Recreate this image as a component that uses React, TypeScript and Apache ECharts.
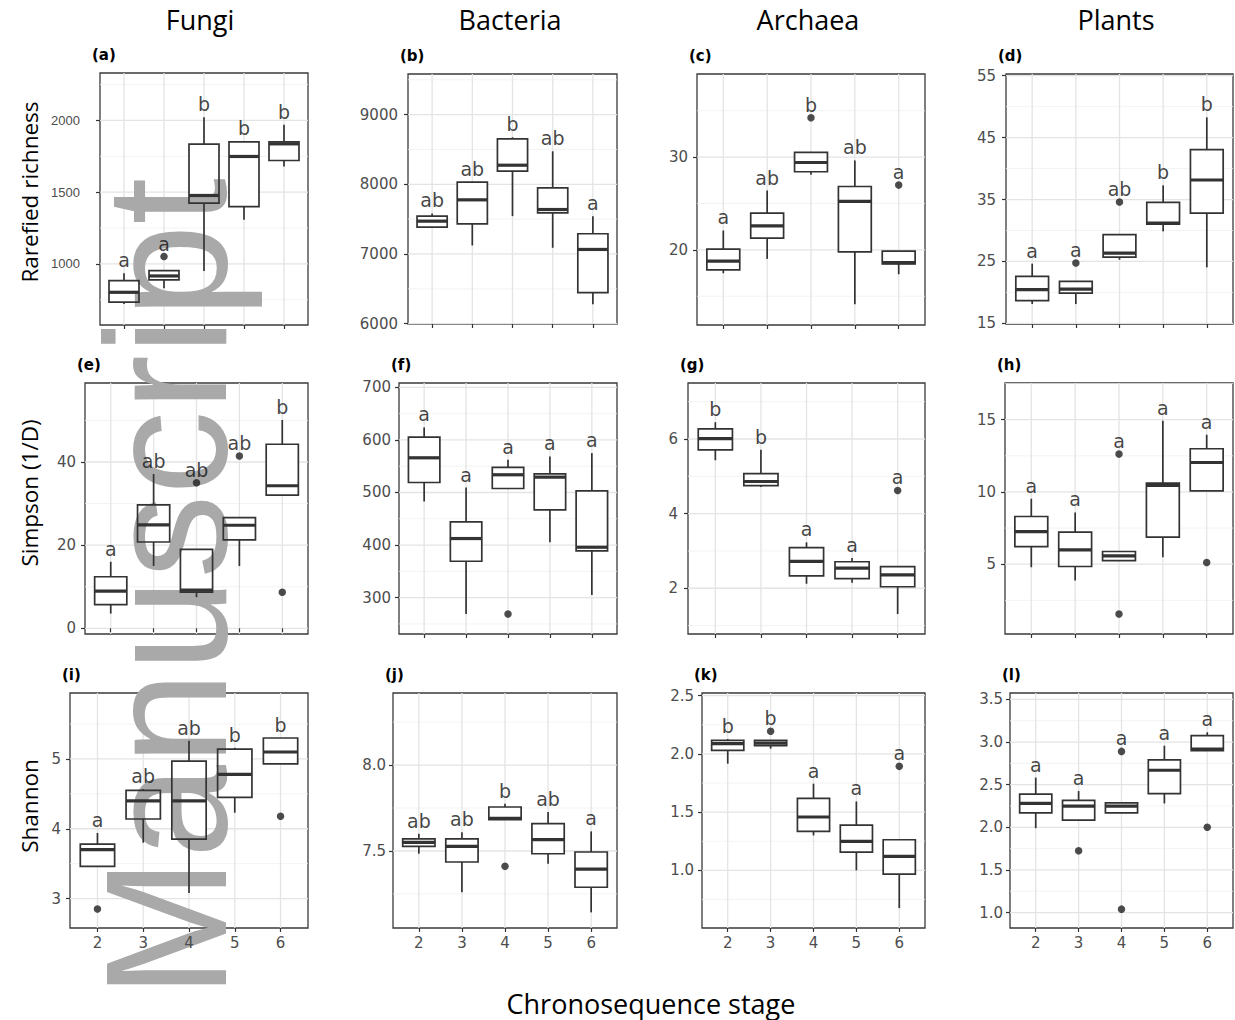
import React, { useEffect, useRef } from "react";
import * as echarts from "echarts";

// ---------------- DATA ----------------
const stages = [2, 3, 4, 5, 6];

const columnTitles = ["Fungi", "Bacteria", "Archaea", "Plants"];
const rowTitles = ["Rarefied richness", "Simpson (1/D)", "Shannon"];
const panelTags = ["(a)", "(b)", "(c)", "(d)", "(e)", "(f)", "(g)", "(h)", "(i)", "(j)", "(k)", "(l)"];
const xAxisTitle = "Chronosequence stage";
const watermarkText = "Manuscript";

// Box statistics per stage: [lower whisker, Q1, median, Q3, upper whisker]
const fungiRichness = [[720, 733, 802, 884, 935], [830, 888, 916, 953, 958], [951, 1424, 1477, 1835, 2023], [1307, 1400, 1749, 1851, 1855], [1679, 1721, 1837, 1851, 1970]];
const fungiRichnessOutliers = [[3, 1051]];
const fungiRichnessLetters = ["a", "a", "b", "b", "b"];
const fungiRichnessTicks = [1000, 1500, 2000];
const fungiRichnessMinor = [750, 1250, 1750, 2250];
const fungiRichnessRange = [574, 2331];

const bacteriaRichness = [[7376, 7385, 7471, 7543, 7581], [7122, 7433, 7777, 8030, 8035], [7543, 8188, 8274, 8651, 8675], [7089, 7591, 7638, 7949, 8474], [6277, 6444, 7065, 7290, 7543]];
const bacteriaRichnessOutliers: number[][] = [];
const bacteriaRichnessLetters = ["ab", "ab", "b", "ab", "a"];
const bacteriaRichnessTicks = [6000, 7000, 8000, 9000];
const bacteriaRichnessMinor = [6500, 7500, 8500, 9500];
const bacteriaRichnessRange = [5995, 9583];

const archaeaRichness = [[17.48, 17.84, 18.78, 20.07, 22.09], [19.03, 21.26, 22.59, 23.96, 26.4], [28.1, 28.42, 29.42, 30.5, 30.5], [14.14, 19.78, 25.22, 26.83, 29.64], [17.37, 18.49, 18.63, 19.86, 19.86]];
const archaeaRichnessOutliers = [[4, 34.24], [6, 26.98]];
const archaeaRichnessLetters = ["a", "ab", "b", "ab", "a"];
const archaeaRichnessTicks = [20, 30];
const archaeaRichnessMinor = [15, 25, 35];
const archaeaRichnessRange = [11.9, 38.96];

const plantRichness = [[18.12, 18.66, 20.44, 22.59, 24.64], [18.12, 19.9, 20.54, 21.78, 21.78], [25.28, 25.71, 26.36, 29.32, 29.32], [29.86, 31.04, 31.2, 34.54, 37.29], [24.04, 32.82, 38.15, 43.05, 48.27]];
const plantRichnessOutliers = [[3, 24.74], [4, 34.6]];
const plantRichnessLetters = ["a", "a", "ab", "b", "b"];
const plantRichnessTicks = [15, 25, 35, 45, 55];
const plantRichnessMinor = [20, 30, 40, 50];
const plantRichnessRange = [14.9, 55.27];

const fungiSimpson = [[3.54, 5.71, 8.93, 12.4, 16.0], [14.97, 20.76, 24.87, 29.7, 37.1], [7.48, 8.69, 9.18, 19.0, 19.0], [14.97, 21.25, 24.79, 26.64, 26.64], [32.03, 32.03, 34.29, 44.27, 50.1]];
const fungiSimpsonOutliers = [[4, 35.0], [5, 41.45], [6, 8.69]];
const fungiSimpsonLetters = ["a", "ab", "ab", "ab", "b"];
const fungiSimpsonTicks = [0, 20, 40];
const fungiSimpsonMinor = [10, 30, 50];
const fungiSimpsonRange = [-1.37, 59.0];

const bacteriaSimpson = [[482.9, 519, 566, 605.4, 623.8], [268.9, 369.2, 412.4, 444.1, 509.5], [507.6, 507.6, 533.7, 547.6, 562.2], [405.4, 467, 529.2, 535.6, 568.6], [305.1, 388.9, 395.9, 503.2, 574.9]];
const bacteriaSimpsonOutliers = [[4, 268.9]];
const bacteriaSimpsonLetters = ["a", "a", "a", "a", "a"];
const bacteriaSimpsonTicks = [300, 400, 500, 600, 700];
const bacteriaSimpsonMinor = [250, 350, 450, 550, 650];
const bacteriaSimpsonRange = [230.8, 708.3];

const archaeaSimpson = [[5.43, 5.71, 6.01, 6.27, 6.45], [4.71, 4.75, 4.86, 5.07, 5.71], [2.12, 2.33, 2.72, 3.09, 3.23], [2.15, 2.26, 2.54, 2.71, 2.81], [1.31, 2.04, 2.36, 2.58, 2.58]];
const archaeaSimpsonOutliers = [[6, 4.62]];
const archaeaSimpsonLetters = ["b", "b", "a", "a", "a"];
const archaeaSimpsonTicks = [2, 4, 6];
const archaeaSimpsonMinor = [1, 3, 5, 7];
const archaeaSimpsonRange = [0.774, 7.5];

const plantSimpson = [[4.79, 6.22, 7.26, 8.3, 9.53], [3.87, 4.84, 5.99, 7.22, 8.58], [5.25, 5.25, 5.58, 5.88, 5.88], [5.48, 6.87, 10.45, 10.61, 14.93], [10.08, 10.08, 12.04, 12.99, 13.96]];
const plantSimpsonOutliers = [[4, 12.62], [4, 1.56], [6, 5.12]];
const plantSimpsonLetters = ["a", "a", "a", "a", "a"];
const plantSimpsonTicks = [5, 10, 15];
const plantSimpsonMinor = [2.5, 7.5, 12.5, 17.5];
const plantSimpsonRange = [0.17, 17.54];

const fungiShannon = [[3.46, 3.46, 3.7, 3.78, 3.94], [3.8, 4.14, 4.4, 4.55, 4.57], [3.08, 3.85, 4.4, 4.97, 5.26], [4.23, 4.45, 4.78, 5.14, 5.16], [4.93, 4.93, 5.1, 5.3, 5.3]];
const fungiShannonOutliers = [[2, 2.85], [6, 4.18]];
const fungiShannonLetters = ["a", "ab", "ab", "b", "b"];
const fungiShannonTicks = [3, 4, 5];
const fungiShannonMinor = [3.5, 4.5, 5.5];
const fungiShannonRange = [2.578, 5.945];

const bacteriaShannon = [[7.484, 7.527, 7.55, 7.57, 7.6], [7.26, 7.436, 7.527, 7.57, 7.609], [7.682, 7.682, 7.69, 7.756, 7.775], [7.426, 7.484, 7.566, 7.659, 7.727], [7.143, 7.289, 7.395, 7.494, 7.614]];
const bacteriaShannonOutliers = [[4, 7.411]];
const bacteriaShannonLetters = ["ab", "ab", "b", "ab", "a"];
const bacteriaShannonTicks = [7.5, 8.0];
const bacteriaShannonMinor = [7.25, 7.75, 8.25];
const bacteriaShannonRange = [7.052, 8.419];

const archaeaShannon = [[1.916, 2.03, 2.088, 2.116, 2.128], [2.045, 2.071, 2.093, 2.116, 2.116], [1.3, 1.335, 1.458, 1.618, 1.744], [1.0, 1.157, 1.249, 1.389, 1.592], [0.676, 0.968, 1.12, 1.263, 1.263]];
const archaeaShannonOutliers = [[3, 2.194], [6, 1.893]];
const archaeaShannonLetters = ["b", "b", "a", "a", "a"];
const archaeaShannonTicks = [1.0, 1.5, 2.0, 2.5];
const archaeaShannonMinor = [0.75, 1.25, 1.75, 2.25];
const archaeaShannonRange = [0.505, 2.523];

const plantShannon = [[1.99, 2.17, 2.28, 2.39, 2.583], [2.083, 2.083, 2.248, 2.315, 2.425], [2.169, 2.169, 2.248, 2.287, 2.287], [2.28, 2.394, 2.669, 2.791, 2.957], [2.898, 2.898, 2.917, 3.075, 3.114]];
const plantShannonOutliers = [[3, 1.724], [4, 2.89], [4, 1.04], [6, 2.0]];
const plantShannonLetters = ["a", "a", "a", "a", "a"];
const plantShannonTicks = [1.0, 1.5, 2.0, 2.5, 3.0, 3.5];
const plantShannonMinor = [1.25, 1.75, 2.25, 2.75, 3.25];
const plantShannonRange = [0.819, 3.575];

// ---------------- LAYOUT (positions / styles) ----------------
const panelData = [
  { box: fungiRichness, out: fungiRichnessOutliers, letters: fungiRichnessLetters, ticks: fungiRichnessTicks, minor: fungiRichnessMinor, range: fungiRichnessRange, dec: 0 },
  { box: bacteriaRichness, out: bacteriaRichnessOutliers, letters: bacteriaRichnessLetters, ticks: bacteriaRichnessTicks, minor: bacteriaRichnessMinor, range: bacteriaRichnessRange, dec: 0 },
  { box: archaeaRichness, out: archaeaRichnessOutliers, letters: archaeaRichnessLetters, ticks: archaeaRichnessTicks, minor: archaeaRichnessMinor, range: archaeaRichnessRange, dec: 0 },
  { box: plantRichness, out: plantRichnessOutliers, letters: plantRichnessLetters, ticks: plantRichnessTicks, minor: plantRichnessMinor, range: plantRichnessRange, dec: 0 },
  { box: fungiSimpson, out: fungiSimpsonOutliers, letters: fungiSimpsonLetters, ticks: fungiSimpsonTicks, minor: fungiSimpsonMinor, range: fungiSimpsonRange, dec: 0 },
  { box: bacteriaSimpson, out: bacteriaSimpsonOutliers, letters: bacteriaSimpsonLetters, ticks: bacteriaSimpsonTicks, minor: bacteriaSimpsonMinor, range: bacteriaSimpsonRange, dec: 0 },
  { box: archaeaSimpson, out: archaeaSimpsonOutliers, letters: archaeaSimpsonLetters, ticks: archaeaSimpsonTicks, minor: archaeaSimpsonMinor, range: archaeaSimpsonRange, dec: 0 },
  { box: plantSimpson, out: plantSimpsonOutliers, letters: plantSimpsonLetters, ticks: plantSimpsonTicks, minor: plantSimpsonMinor, range: plantSimpsonRange, dec: 0 },
  { box: fungiShannon, out: fungiShannonOutliers, letters: fungiShannonLetters, ticks: fungiShannonTicks, minor: fungiShannonMinor, range: fungiShannonRange, dec: 0 },
  { box: bacteriaShannon, out: bacteriaShannonOutliers, letters: bacteriaShannonLetters, ticks: bacteriaShannonTicks, minor: bacteriaShannonMinor, range: bacteriaShannonRange, dec: 1 },
  { box: archaeaShannon, out: archaeaShannonOutliers, letters: archaeaShannonLetters, ticks: archaeaShannonTicks, minor: archaeaShannonMinor, range: archaeaShannonRange, dec: 1 },
  { box: plantShannon, out: plantShannonOutliers, letters: plantShannonLetters, ticks: plantShannonTicks, minor: plantShannonMinor, range: plantShannonRange, dec: 1 },
];

// [left, top, width, height, labelMargin]
const panelRects = [
  [100, 73, 208, 252, 20], [408, 74, 209, 250, 10], [697, 74, 228, 251, 9], [1006, 74, 227, 250, 10],
  [85, 383, 223, 251, 9], [399, 383, 218, 251, 8], [688, 383, 237, 251, 10], [1005, 383, 228, 251, 9],
  [70, 693, 238, 235, 9], [393, 693, 224, 235, 7], [702, 693, 223, 235, 8], [1010, 693, 223, 235, 7],
];
const columnTitleX = [200, 510, 808, 1116];
const rowTitleY = [192, 493, 806];

const X_MIN = 1.4;
const X_MAX = 6.6;
const BOX_HALF = 0.375;
const LINE_COLOR = "#333333";
const TICK_FONT = "DejaVu Sans";

function buildOption() {
  const grid: any[] = [];
  const xAxis: any[] = [];
  const yAxis: any[] = [];
  const series: any[] = [];

  panelData.forEach((p, i) => {
    const [left, top, width, height, margin] = panelRects[i];
    grid.push({ left, top, width, height, show: true, borderColor: "#3a3a3a", borderWidth: 1.3, backgroundColor: "transparent" });
    xAxis.push({
      type: "value", gridIndex: i, min: X_MIN, max: X_MAX, z: 4,
      axisLine: { show: false }, splitLine: { show: false },
      axisTick: { show: true, customValues: stages, length: 4, lineStyle: { color: LINE_COLOR, width: 1.2 } },
      axisLabel: { show: i >= 8, customValues: stages, margin: 7, fontSize: 15, fontFamily: TICK_FONT, color: "#4d4d4d" },
    });
    const isA = i === 0;
    yAxis.push({
      type: "value", gridIndex: i, min: p.range[0], max: p.range[1], z: 4,
      axisLine: { show: false }, splitLine: { show: false },
      axisTick: { show: true, customValues: p.ticks, length: 4, lineStyle: { color: LINE_COLOR, width: 1.2 } },
      axisLabel: {
        customValues: p.ticks, margin, fontSize: isA ? 13 : 15, fontFamily: isA ? "Liberation Sans" : TICK_FONT, color: "#4d4d4d",
        formatter: (v: number) => v.toFixed(p.dec),
      },
    });

    // grid lines (drawn through the axes' scales)
    const gl: number[][] = [];
    p.minor.forEach((v) => gl.push([0, v, 0]));
    p.ticks.forEach((v) => gl.push([0, v, 1]));
    stages.forEach((s) => gl.push([1, s, 1]));
    series.push({
      type: "custom", xAxisIndex: i, yAxisIndex: i, z: 1, silent: true, data: gl,
      renderItem: (params: any, api: any) => {
        const cs = params.coordSys;
        const dir = api.value(0), v = api.value(1), major = api.value(2);
        const stroke = major ? "#e4e4e4" : "#f0f0f0";
        const lw = major ? 1.3 : 0.8;
        if (dir === 0) {
          const y = api.coord([X_MIN, v])[1];
          return { type: "line", shape: { x1: cs.x, y1: y, x2: cs.x + cs.width, y2: y }, style: { stroke, lineWidth: lw } };
        }
        const x = api.coord([v, p.range[0]])[0];
        return { type: "line", shape: { x1: x, y1: cs.y, x2: x, y2: cs.y + cs.height }, style: { stroke, lineWidth: lw } };
      },
    });

    const boxData = p.box.map((b, k) => [stages[k], ...b]);
    // box fill (below watermark)
    series.push({
      type: "custom", xAxisIndex: i, yAxisIndex: i, z: 1, silent: true, data: boxData,
      encode: { x: 0, y: [1, 2, 3, 4, 5] },
      renderItem: (params: any, api: any) => {
        const x = api.value(0);
        const a = api.coord([x - BOX_HALF, api.value(2)]);
        const b = api.coord([x + BOX_HALF, api.value(4)]);
        return { type: "rect", z2: 5, shape: { x: a[0], y: b[1], width: b[0] - a[0], height: a[1] - b[1] }, style: { fill: "#ffffff" } };
      },
    });
    // box lines (above watermark)
    series.push({
      type: "custom", xAxisIndex: i, yAxisIndex: i, z: 3, silent: true, data: boxData,
      encode: { x: 0, y: [1, 2, 3, 4, 5] },
      renderItem: (params: any, api: any) => {
        const x = api.value(0);
        const lo = api.coord([x - BOX_HALF, api.value(2)]);
        const hi = api.coord([x + BOX_HALF, api.value(4)]);
        const med = api.coord([x, api.value(3)]);
        const wMin = api.coord([x, api.value(1)]);
        const wMax = api.coord([x, api.value(5)]);
        const st = { stroke: LINE_COLOR, lineWidth: 1.7, fill: null };
        return {
          type: "group",
          children: [
            { type: "line", shape: { x1: med[0], y1: hi[1], x2: med[0], y2: wMax[1] }, style: st },
            { type: "line", shape: { x1: med[0], y1: lo[1], x2: med[0], y2: wMin[1] }, style: st },
            { type: "rect", shape: { x: lo[0], y: hi[1], width: hi[0] - lo[0], height: lo[1] - hi[1] }, style: { stroke: LINE_COLOR, lineWidth: 1.7, fill: "none" } },
            { type: "line", shape: { x1: lo[0], y1: med[1], x2: hi[0], y2: med[1] }, style: { stroke: LINE_COLOR, lineWidth: 3.2 } },
          ],
        };
      },
    });
    // outliers
    series.push({
      type: "scatter", xAxisIndex: i, yAxisIndex: i, z: 3, silent: true,
      symbol: "circle", symbolSize: 7.5, itemStyle: { color: "#1f1f1f" }, data: p.out,
    });
    // significance letters, placed above the highest point of each stage
    const letterData = stages.map((s, k) => {
      const outs = p.out.filter((o) => o[0] === s).map((o) => o[1]);
      return [s, Math.max(p.box[k][4], ...outs)];
    });
    series.push({
      type: "scatter", xAxisIndex: i, yAxisIndex: i, z: 3, silent: true,
      symbolSize: 1, itemStyle: { color: "rgba(0,0,0,0)" }, data: letterData,
      label: {
        show: true, position: "top", distance: 3, fontSize: 19, fontFamily: TICK_FONT, color: "#111",
        formatter: (prm: any) => p.letters[prm.dataIndex],
      },
    });
  });

  const graphic: any[] = [];
  columnTitles.forEach((t, c) => {
    graphic.push({ type: "text", x: columnTitleX[c], y: 19, style: { text: t, fontSize: 27, fontFamily: "Open Sans", fill: "#000", align: "center", verticalAlign: "middle" } });
  });
  rowTitles.forEach((t, r) => {
    graphic.push({ type: "text", x: 29, y: rowTitleY[r], rotation: Math.PI / 2, style: { text: t, fontSize: 22.5, fontFamily: "Open Sans", fill: "#000", align: "center", verticalAlign: "middle" } });
  });
  panelTags.forEach((t, i) => {
    const [left, top] = panelRects[i];
    graphic.push({ type: "text", x: left - 8, y: top - 18, style: { text: t, fontSize: 15, fontWeight: "bold", fontFamily: TICK_FONT, fill: "#000", align: "left", verticalAlign: "middle" } });
  });
  graphic.push({ type: "text", x: 651, y: 1003, style: { text: xAxisTitle, fontSize: 27, fontFamily: "Open Sans", fill: "#000", align: "center", verticalAlign: "middle" } });
  graphic.push({
    type: "text", x: 166, y: 998, rotation: Math.PI / 2, scaleX: 0.975, z: 2, silent: true,
    style: { text: watermarkText, fontSize: 172, fontFamily: "Liberation Sans", fill: "#a9a9a9", align: "left", verticalAlign: "middle" },
  });

  return { animation: false, backgroundColor: "#ffffff", grid, xAxis, yAxis, series, graphic };
}

export default function App() {
  const ref = useRef<HTMLDivElement>(null);
  useEffect(() => {
    document.body.style.margin = "0";
    document.body.style.overflow = "hidden";
    const chart = echarts.init(ref.current!, undefined, { renderer: "svg" });
    chart.setOption(buildOption() as any);
    return () => chart.dispose();
  }, []);
  return <div ref={ref} style={{ width: 1235, height: 1020 }} />;
}
